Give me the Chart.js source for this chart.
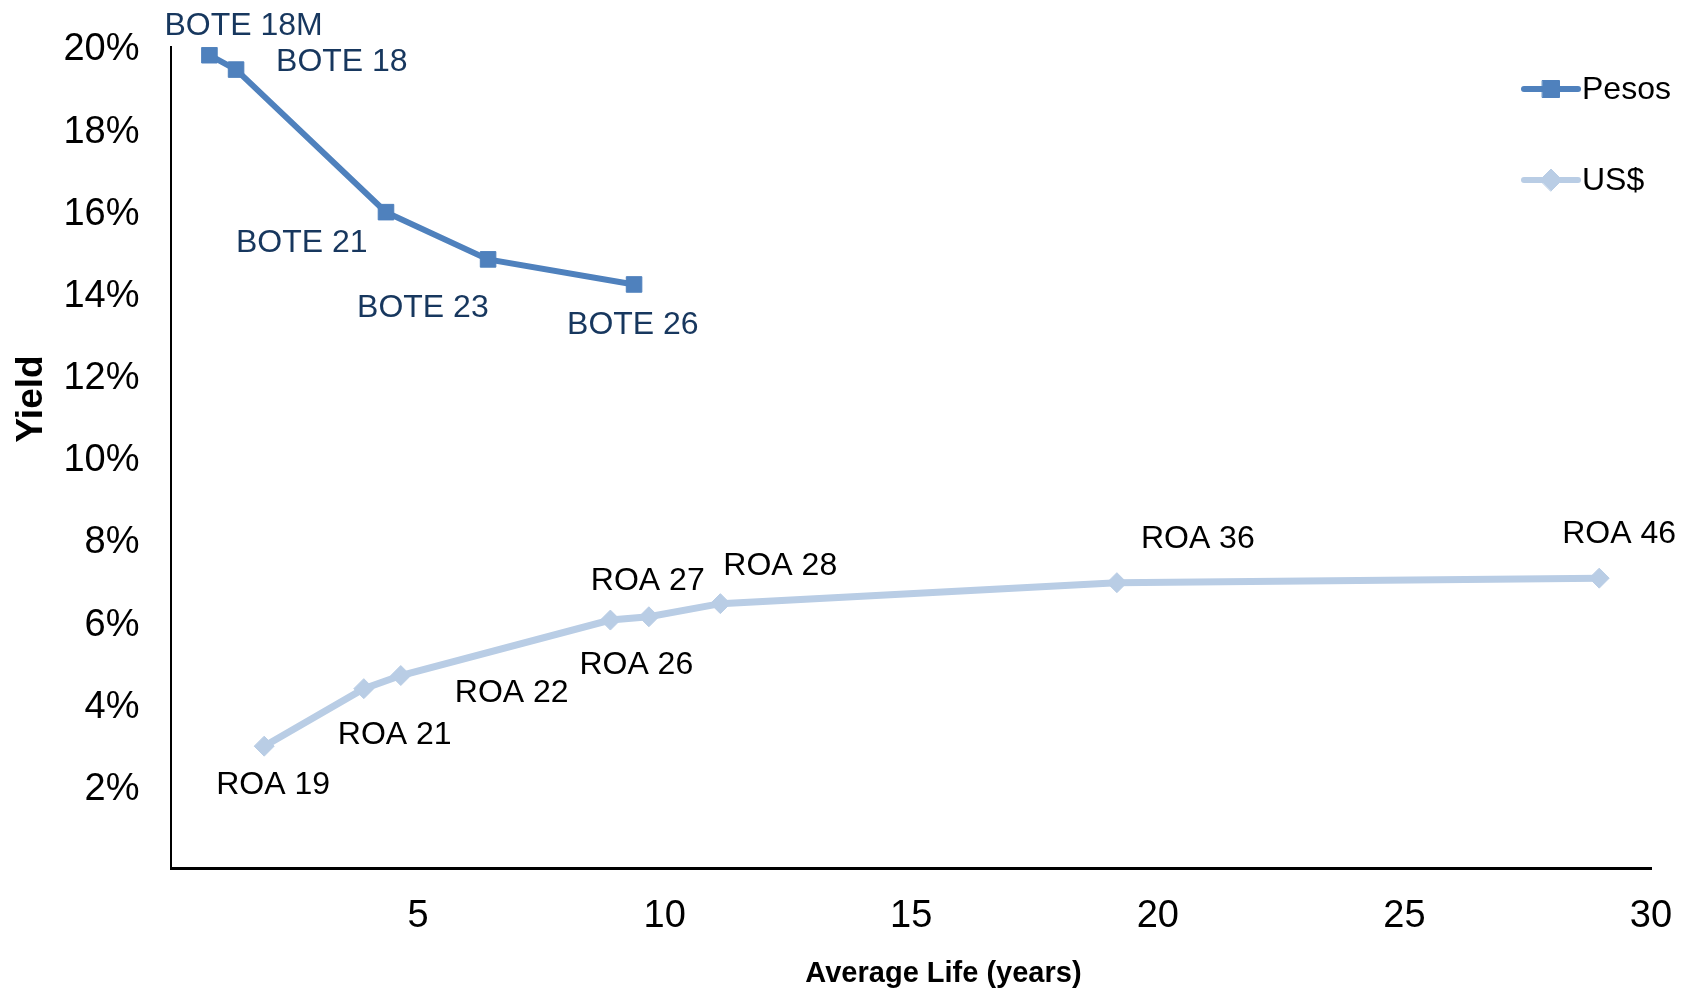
<!DOCTYPE html>
<html>
<head>
<meta charset="utf-8">
<script src="https://cdn.jsdelivr.net/npm/chart.js@4.4.0/dist/chart.umd.min.js"></script>
<style>
  html, body { margin: 0; padding: 0; background: #fff; }
  #wrap { width: 1691px; height: 991px; }
</style>
</head>
<body>
<div id="wrap"><canvas id="graficoCurva"></canvas></div>
<script>
// Dados (vida média em anos, yield em %)
const pesosNomes = ['BOTE 18M', 'BOTE 18', 'BOTE 21', 'BOTE 23', 'BOTE 26'];
const pesosVida = [0.77, 1.31, 4.35, 6.42, 9.38];
const pesosYield = [19.8, 19.45, 15.98, 14.83, 14.22];

const usdNomes = ['ROA 19', 'ROA 21', 'ROA 22', 'ROA 26', 'ROA 27', 'ROA 28', 'ROA 36', 'ROA 46'];
const usdVida = [1.88, 3.9, 4.65, 8.9, 9.68, 11.13, 19.17, 28.95];
const usdYield = [2.98, 4.38, 4.7, 6.05, 6.13, 6.45, 6.96, 7.07];

const xTicks = [0, 5, 10, 15, 20, 25, 30];
const yTicks = [0, 2, 4, 6, 8, 10, 12, 14, 16, 18, 20];

// posição dos rótulos em relação ao ponto (px)
const pesosRotuloDesloc = [[-45, -29], [40, -7], [-150, 31], [-131, 49], [-67, 41]];
const usdRotuloDesloc = [[-48, 39], [-26, 47], [54, 18], [-31, 45], [-58, -36], [3, -37], [24, -44], [-37, -44]];

const fonte = '"Liberation Sans", Arial, sans-serif';

function pontos(xs, ys) {
  return xs.map((x, i) => ({ x, y: ys[i] }));
}

// rótulos de cada ponto
const rotulosPlugin = {
  id: 'rotulos',
  afterDatasetsDraw(chart) {
    const ctx = chart.ctx;
    chart.data.datasets.forEach((ds, i) => {
      const meta = chart.getDatasetMeta(i);
      meta.data.forEach((pt, j) => {
        const d = ds.desloc[j];
        ctx.save();
        ctx.font = '32px ' + fonte;
        ctx.fillStyle = ds.corRotulo;
        ctx.textAlign = 'left';
        ctx.textBaseline = 'middle';
        ctx.fillText(ds.nomes[j], pt.x + d[0], pt.y + d[1]);
        ctx.restore();
      });
    });
  }
};

// legenda no canto superior direito (linha + marcador)
const legendaPlugin = {
  id: 'legendaLinha',
  afterDraw(chart) {
    const ctx = chart.ctx;
    const W = chart.width;
    const ys = [89, 180];
    chart.data.datasets.forEach((ds, i) => {
      const y = ys[i];
      const x0 = W - 167, x1 = W - 113;
      ctx.save();
      ctx.strokeStyle = ds.borderColor;
      ctx.lineWidth = 6;
      ctx.lineCap = 'round';
      ctx.beginPath();
      ctx.moveTo(x0, y);
      ctx.lineTo(x1, y);
      ctx.stroke();
      ctx.fillStyle = ds.pointBackgroundColor;
      ctx.strokeStyle = ds.pointBackgroundColor;
      ctx.lineWidth = 1;
      Chart.helpers.drawPoint(ctx, {
        pointStyle: ds.pointStyle,
        radius: ds.pointStyle === 'rect' ? 12 : 11,
        rotation: 0,
        borderWidth: 1
      }, (x0 + x1) / 2, y);
      ctx.font = '32px ' + fonte;
      ctx.fillStyle = '#000';
      ctx.textAlign = 'left';
      ctx.textBaseline = 'middle';
      ctx.fillText(ds.label, x1 + 4, y + 1);
      ctx.restore();
    });
  }
};

function criarGrafico() {
  const ctx = document.getElementById('graficoCurva').getContext('2d');
  new Chart(ctx, {
    type: 'line',
    data: {
      datasets: [
        {
          label: 'Pesos',
          data: pontos(pesosVida, pesosYield),
          nomes: pesosNomes,
          desloc: pesosRotuloDesloc,
          corRotulo: '#17375E',
          borderColor: '#4F81BD',
          backgroundColor: '#4F81BD',
          pointBackgroundColor: '#4F81BD',
          pointBorderColor: '#4F81BD',
          borderWidth: 6,
          pointStyle: 'rect',
          pointRadius: 11,
          pointBorderWidth: 1,
          tension: 0
        },
        {
          label: 'US$',
          data: pontos(usdVida, usdYield),
          nomes: usdNomes,
          desloc: usdRotuloDesloc,
          corRotulo: '#000000',
          borderColor: '#B9CDE5',
          backgroundColor: '#B9CDE5',
          pointBackgroundColor: '#B9CDE5',
          pointBorderColor: '#B9CDE5',
          borderWidth: 7,
          pointStyle: 'rectRot',
          pointRadius: 10,
          pointBorderWidth: 1,
          tension: 0
        }
      ]
    },
    options: {
      responsive: true,
      maintainAspectRatio: false,
      animation: false,
      layout: { padding: { left: 7, right: 40, top: 47, bottom: 0 } },
      plugins: {
        legend: { display: false },
        tooltip: { enabled: false }
      },
      scales: {
        x: {
          type: 'linear',
          min: 0,
          max: 30,
          afterBuildTicks: (scale) => { scale.ticks = xTicks.map(v => ({ value: v })); },
          // grade oculta; tickLength só afasta os rótulos do eixo
          grid: { display: false, drawTicks: true, tickLength: 25 },
          border: { display: true, color: '#000', width: 3 },
          ticks: {
            padding: 0,
            color: '#000',
            maxRotation: 0,
            font: { family: fonte, size: 38 },
            callback: (v) => (v === 0 ? '' : String(v))
          },
          title: {
            display: true,
            // espaços à esquerda para deslocar o título como no original
            text: ' '.repeat(8) + 'Average Life (years)',
            color: '#000',
            font: { family: fonte, size: 29, weight: 'bold' },
            padding: { top: 17, bottom: 0 }
          }
        },
        y: {
          type: 'linear',
          min: 0,
          max: 20,
          afterBuildTicks: (scale) => { scale.ticks = yTicks.map(v => ({ value: v })); },
          grid: { display: false, drawTicks: true, tickLength: 32 },
          border: { display: true, color: '#000', width: 2 },
          ticks: {
            padding: 0,
            labelOffset: 3,
            color: '#000',
            font: { family: fonte, size: 38 },
            callback: (v) => (v === 0 ? '' : v + '%')
          },
          title: {
            display: true,
            align: 'end',
            // espaços no fim para descer o título até a altura do original
            text: 'Yield' + ' '.repeat(30),
            color: '#000',
            font: { family: fonte, size: 37, weight: 'bold' },
            padding: { top: 3, bottom: 9 }
          }
        }
      }
    },
    plugins: [rotulosPlugin, legendaPlugin]
  });
}

document.addEventListener('DOMContentLoaded', criarGrafico);
</script>
</body>
</html>
